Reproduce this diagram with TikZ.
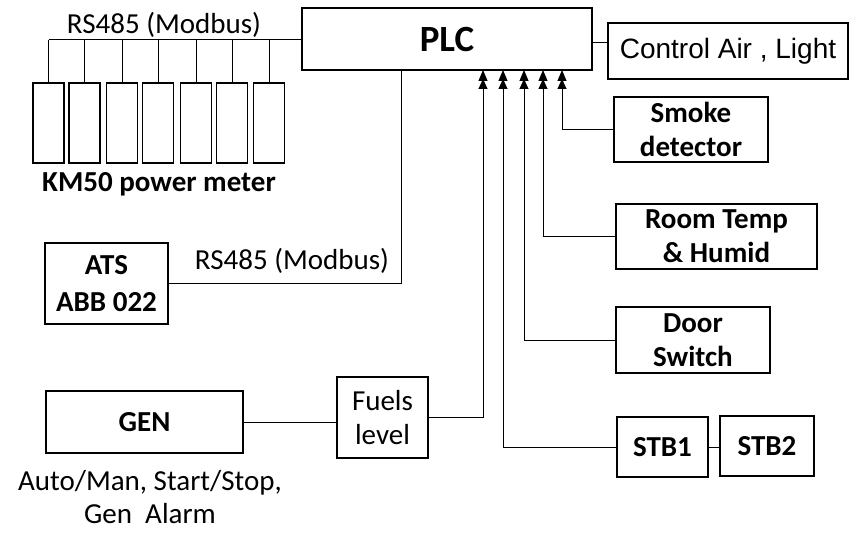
\documentclass[tikz,border=0pt]{standalone}
\usepackage{fontspec}
\setmainfont{Carlito}
\newfontfamily\arialf{Liberation Sans}
\usetikzlibrary{arrows.meta}
\begin{document}
\begin{tikzpicture}[x=1pt,y=-1pt,
  box/.style={draw, line width=1.3pt, inner sep=0pt, align=center,
    font=\fontsize{29}{34}\selectfont},
  boldbox/.style={box, font=\fontsize{29}{34}\selectfont\bfseries},
  meter/.style={draw, line width=1.3pt, minimum width=31pt, minimum height=80pt, inner sep=0pt},
  wire/.style={line width=1pt},
  sig/.style={wire, -{Triangle[length=10pt,width=9pt,sep=-2pt] Triangle[length=11pt,width=9pt]}},
  lbl/.style={font=\fontsize{29}{34}\selectfont, inner sep=0pt, anchor=base}]
\useasboundingbox[fill=white] (0,0) rectangle (856,534);

% main boxes
\node[box, minimum width=290pt, minimum height=62pt, font=\fontsize{37}{40}\selectfont\bfseries] (plc) at (447,39) {PLC};
\node[box, minimum width=240pt, minimum height=56pt, font=\fontsize{28}{34}\selectfont\arialf] (ctrl) at (728,51) {Control Air , Light};
\node[boldbox, minimum width=154pt, minimum height=65pt] (smoke) at (691,129.5) {Smoke\\detector};
\node[boldbox, minimum width=201pt, minimum height=65pt] (room) at (716.5,236.5) {Room Temp\\\& Humid};
\node[boldbox, minimum width=154pt, minimum height=66pt] (door) at (693,340) {Door\\Switch};
\node[boldbox, minimum width=91pt, minimum height=60pt] (stb1) at (662.5,447) {STB1};
\node[boldbox, minimum width=94pt, minimum height=60pt] (stb2) at (767,446) {STB2};
\node[box, minimum width=91pt, minimum height=81pt] (fuel) at (382.5,417.5) {Fuels\\level};
\node[boldbox, minimum width=197pt, minimum height=62pt] (gen) at (144.5,422) {GEN};
\node[box, minimum width=123pt, minimum height=81pt, font=\fontsize{29}{37}\selectfont\bfseries] (ats) at (106.5,283.5) {ATS\\ABB 022};

% power meters
\foreach \i/\x in {1/48.5,2/84.5,3/122,4/158,5/196,6/232,7/269}
  \node[meter] (m\i) at (\x,123) {};

% labels
\node[lbl] (rs1) at (164,34) {RS485 (Modbus)};
\node[lbl, font=\fontsize{29}{34}\selectfont\bfseries] (km) at (159,192) {KM50 power meter};
\node[lbl] (rs2) at (292,270) {RS485 (Modbus)};
\node[lbl] (gl1) at (150,490) {Auto/Man, Start/Stop,};
\node[lbl] (gl2) at (150,523) {Gen\ \ Alarm};

% coordinates at PLC bottom
\coordinate (a1) at (483,70);
\coordinate (a2) at (503,70);
\coordinate (a3) at (524,70);
\coordinate (a4) at (543,70);
\coordinate (a5) at (562,70);
\coordinate (atsj) at (401,70);
\coordinate (bus0) at (48.5,40);

% bus to meters
\draw[wire] (bus0) -- (plc.west |- bus0);
\foreach \i in {1,...,7}
  \draw[wire] (m\i.north) -- (m\i.north |- bus0);

% control link
\draw[wire] (plc.east |- 0,43) -- (ctrl.west |- 0,43);

% ATS link
\draw[wire] (ats.east) -| (atsj);

% GEN to fuel
\draw[wire] (gen.east) -- (fuel.west |- gen.east);

% signals into PLC
\draw[sig] (fuel.east) -- (a1 |- fuel.east) -- (a1);
\draw[sig] (stb1.west) -- (a2 |- stb1.west) -- (a2);
\draw[sig] (door.west) -- (a3 |- door.west) -- (a3);
\draw[sig] (room.west) -- (a4 |- room.west) -- (a4);
\draw[sig] (smoke.west) -- (a5 |- smoke.west) -- (a5);

% STB1 - STB2
\draw[wire] (stb1.east) -- (stb2.west |- stb1.east);
\end{tikzpicture}
\end{document}
